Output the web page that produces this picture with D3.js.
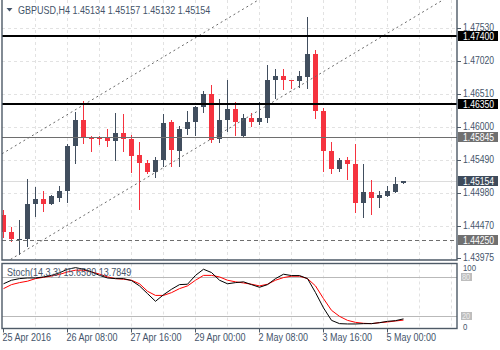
<!DOCTYPE html>
<html>
<head>
<meta charset="utf-8">
<script src="https://cdn.jsdelivr.net/npm/d3@7/dist/d3.min.js"></script>
<style>
  html, body { margin: 0; padding: 0; background: #ffffff; overflow: hidden; }
  svg { display: block; }
  text { font-family: "Liberation Sans", Arial, sans-serif; }
</style>
</head>
<body>
<svg id="chart" width="500" height="350"></svg>
<script>
// ---- GBPUSD H4 bars (25 Apr 2016 00:00 onwards) ----
const symbolTitle = "GBPUSD,H4";
const timeLabels = ["25 Apr 2016", "26 Apr 08:00", "27 Apr 16:00", "29 Apr 00:00", "2 May 08:00", "3 May 16:00", "5 May 00:00"];
const timeLabelBars = [0, 8, 16, 24, 32, 40, 48];

const opens = [1.44625,1.44377,1.44258,1.44264,1.44799,1.44872,1.44799,1.44892,1.45000,1.45696,
  1.46093,1.45841,1.45825,1.45815,1.45773,1.45907,1.45810,1.45552,1.45439,1.45294,
  1.45485,1.46062,1.45629,1.45954,1.46062,1.46298,1.46510,1.45804,1.46093,1.46263,
  1.45861,1.46139,1.46062,1.46124,1.46711,1.46773,1.46726,1.46700,1.46762,1.47128,
  1.46232,1.45629,1.45340,1.45475,1.45428,1.44815,1.44995,1.44892,1.44923,1.44995,1.45134];
const highs = [1.44702,1.44444,1.44558,1.45192,1.45062,1.45011,1.44934,1.45088,1.45722,1.46221,
  1.46391,1.45861,1.45861,1.45954,1.46216,1.46186,1.45876,1.45768,1.45490,1.45526,
  1.46186,1.46093,1.46015,1.46236,1.46324,1.46541,1.46649,1.46428,1.46711,1.46371,
  1.46186,1.46216,1.46371,1.46958,1.46896,1.46896,1.46726,1.46865,1.47700,1.47175,
  1.46289,1.45753,1.45506,1.45526,1.45722,1.45428,1.45181,1.45011,1.45088,1.45212,1.45157];
const lows = [1.44289,1.44234,1.44033,1.44146,1.44614,1.44691,1.44795,1.44846,1.44830,1.45433,
  1.45748,1.45629,1.45722,1.45706,1.45475,1.45629,1.45294,1.44728,1.45284,1.45216,
  1.45382,1.45397,1.45397,1.45887,1.45876,1.46221,1.45757,1.45757,1.45938,1.45876,
  1.45861,1.46015,1.46031,1.46077,1.46444,1.46576,1.46598,1.46618,1.46598,1.46128,
  1.45305,1.45278,1.45309,1.45186,1.44686,1.44598,1.44645,1.44753,1.44923,1.44985,1.45132];
const closes = [1.44366,1.44254,1.44269,1.44805,1.44872,1.44799,1.44923,1.45011,1.45706,1.46093,
  1.45819,1.45804,1.45804,1.45773,1.45907,1.45804,1.45541,1.45433,1.45294,1.45485,
  1.46057,1.45640,1.45969,1.46077,1.46294,1.46495,1.45799,1.46108,1.46263,1.46062,
  1.46139,1.46062,1.46139,1.46726,1.46773,1.46711,1.46700,1.46773,1.47128,1.46236,
  1.45618,1.45340,1.45475,1.45417,1.44815,1.44995,1.44892,1.44934,1.45011,1.45119,1.45154];

// Stochastic(14,3,3): main (%K) and signal (%D)
const stochK = [70,75.5,78,79,79,80.6,83,87,92.5,95,
  92.5,88.4,83,79,78,78,75,66.7,54.8,42.9,
  53,61.5,68.7,69.3,83,92.5,87.4,75.5,70,71.8,
  73,68.7,64.6,68.7,78,84.8,82.7,82.7,78,56.4,
  32.7,13.4,8.3,7.8,7.8,8.3,8.3,9.8,11.9,12.9,15.6580];
const stochD = [62.5,68.7,71.8,74,78,80,82,84.5,88.4,91,
  91,88.4,85,80.6,78,77,75.5,70,58.4,52,
  52,56.3,62.5,66.7,75.5,83,83,80.6,75.5,73,
  71.3,69.3,66.7,69.3,75.5,79.6,81.7,81.7,78,66.7,
  47,28.9,19.6,13.4,10.3,8.8,8.3,9.8,10.9,12.4,13.7849];
const stochLevels = [80, 20];
const stochScaleLabels = [100, 0];

// Price axis ticks and drawn levels
const priceTicks = [1.47530, 1.47020, 1.46510, 1.46000, 1.45490, 1.44980, 1.44470, 1.43975];
const keyLevels = [1.47400, 1.46350];
const midLevel = 1.45845;
const lowLevel = 1.44250;
// Trend channel: [bar index, price] anchor pairs
const channelLower = [[0, 1.43881], [50, 1.47590]];
const channelUpper = [[0, 1.45592], [50, 1.49301]];

// ---- layout ----
const svg = d3.select("#chart");
const main = { left: 2, right: 457, top: 0, bottom: 260 };
const sub = { left: 2, right: 457, top: 263.5, bottom: 328.5 };

const bullColor = "#414e5e";
const bearColor = "#f5333f";
const textColor = "#44546a";
const frameColor = "#4e5a67";
const narrow = 0.82; // horizontal squeeze giving a narrow terminal-style face

// text helper: anchored at (x, baseline y), horizontally condensed
function addText(parent, xPos, yPos, size, fill, str) {
  return parent.append("text")
    .attr("transform", `translate(${xPos},${yPos}) scale(${narrow},1)`)
    .attr("font-size", size).attr("fill", fill).text(str);
}

const x = d3.scaleLinear().domain([0, 50]).range([3.5, 403.5]);
const y = d3.scaleLinear().domain([1.43937, 1.47955]).range([260, 0]);
const ys = d3.scaleLinear().domain([0, 100]).range([329, 264.4]);

const defs = svg.append("defs");
defs.append("clipPath").attr("id", "clipMain").append("rect")
  .attr("x", main.left).attr("y", main.top).attr("width", main.right - main.left).attr("height", main.bottom - main.top);
defs.append("clipPath").attr("id", "clipSub").append("rect")
  .attr("x", sub.left).attr("y", sub.top).attr("width", sub.right - sub.left).attr("height", sub.bottom - sub.top);

const gridColor = "#e2e2e2";
const nBarsVisible = Math.floor(x.invert(main.right));

// vertical grid every 4 bars, through both panes
const gridBars = d3.range(4, nBarsVisible + 1, 4);
[[main, "clipMain"], [sub, "clipSub"]].forEach(([pane, clip]) => {
  svg.append("g").attr("clip-path", `url(#${clip})`)
    .selectAll("line").data(gridBars).join("line")
    .attr("x1", d => x(d)).attr("x2", d => x(d))
    .attr("y1", pane.top).attr("y2", pane.bottom)
    .attr("stroke", gridColor).attr("stroke-dasharray", "3,3");
});

// horizontal grid at price ticks
const gMain = svg.append("g").attr("clip-path", "url(#clipMain)");
gMain.selectAll("line.hgrid").data(priceTicks.slice(0, -1)).join("line")
  .attr("class", "hgrid")
  .attr("x1", main.left).attr("x2", main.right)
  .attr("y1", d => Math.round(y(d)) + 0.5).attr("y2", d => Math.round(y(d)) + 0.5)
  .attr("stroke", gridColor).attr("stroke-dasharray", "3,3");

// current price line
const lastClose = closes[closes.length - 1];
gMain.append("line")
  .attr("x1", main.left).attr("x2", main.right)
  .attr("y1", Math.round(y(lastClose)) + 0.5).attr("y2", Math.round(y(lastClose)) + 0.5)
  .attr("stroke", "#dcdcdc");

// candles
const bars = d3.range(opens.length).map(i => ({ i, o: opens[i], h: highs[i], l: lows[i], c: closes[i] }));
const gC = gMain.append("g");
gC.selectAll("line.wick").data(bars).join("line")
  .attr("class", "wick")
  .attr("x1", d => x(d.i)).attr("x2", d => x(d.i))
  .attr("y1", d => Math.round(y(d.h))).attr("y2", d => Math.round(y(d.l)) + 1)
  .attr("stroke", d => d.c >= d.o ? bullColor : bearColor).attr("stroke-width", 1);
gC.selectAll("rect.body").data(bars).join("rect")
  .attr("class", "body")
  .attr("x", d => x(d.i) - 2.5).attr("width", 5)
  .attr("y", d => Math.round(y(Math.max(d.o, d.c))))
  .attr("height", d => Math.max(1, Math.round(y(Math.min(d.o, d.c))) - Math.round(y(Math.max(d.o, d.c)))))
  .attr("fill", d => d.c >= d.o ? bullColor : bearColor);

// channel lines
[channelLower, channelUpper].forEach(pts => {
  const slope = (pts[1][1] - pts[0][1]) / (pts[1][0] - pts[0][0]);
  const b0 = x.invert(main.left), b1 = x.invert(main.right);
  gMain.append("line")
    .attr("x1", x(b0)).attr("y1", y(pts[0][1] + slope * (b0 - pts[0][0])))
    .attr("x2", x(b1)).attr("y2", y(pts[0][1] + slope * (b1 - pts[0][0])))
    .attr("stroke", "#6a6a6a").attr("stroke-width", 1).attr("stroke-dasharray", "2,3");
});

// horizontal levels
gMain.selectAll("line.key").data(keyLevels).join("line")
  .attr("class", "key")
  .attr("x1", main.left).attr("x2", main.right)
  .attr("y1", d => Math.round(y(d))).attr("y2", d => Math.round(y(d)))
  .attr("stroke", "#000").attr("stroke-width", 2);
gMain.append("line")
  .attr("x1", main.left).attr("x2", main.right)
  .attr("y1", Math.round(y(midLevel)) + 0.5).attr("y2", Math.round(y(midLevel)) + 0.5)
  .attr("stroke", "#6e6e6e").attr("stroke-width", 1.2);
gMain.append("line")
  .attr("x1", main.left).attr("x2", main.right)
  .attr("y1", Math.round(y(lowLevel)) + 0.5).attr("y2", Math.round(y(lowLevel)) + 0.5)
  .attr("stroke", "#6e6e6e").attr("stroke-width", 1).attr("stroke-dasharray", "4,3");

// ---- stochastic pane ----
const gSub = svg.append("g").attr("clip-path", "url(#clipSub)");
gSub.selectAll("line.lvl").data(stochLevels).join("line")
  .attr("class", "lvl")
  .attr("x1", sub.left).attr("x2", sub.right)
  .attr("y1", d => Math.round(ys(d)) + 0.5).attr("y2", d => Math.round(ys(d)) + 0.5)
  .attr("stroke", "#b9b9b9");
const stochLine = d3.line().x((d, i) => x(i)).y(d => ys(d));
gSub.append("path").datum(stochD).attr("d", stochLine)
  .attr("fill", "none").attr("stroke", "#ff0000").attr("stroke-width", 1);
gSub.append("path").datum(stochK).attr("d", stochLine)
  .attr("fill", "none").attr("stroke", "#000000").attr("stroke-width", 1);

// pane frames
svg.append("path")
  .attr("d", `M${main.left},${main.top - 2}V${main.bottom}H${main.right}V${main.top - 2}`)
  .attr("fill", "none").attr("stroke", frameColor).attr("stroke-width", 1.4);
svg.append("rect")
  .attr("x", sub.left).attr("y", sub.top).attr("width", sub.right - sub.left).attr("height", sub.bottom - sub.top)
  .attr("fill", "none").attr("stroke", frameColor).attr("stroke-width", 1.4);

// ---- price axis ----
const axisX = main.right;
const gAxis = svg.append("g");
gAxis.selectAll("line.tick").data(priceTicks).join("line")
  .attr("class", "tick")
  .attr("x1", axisX).attr("x2", axisX + 4)
  .attr("y1", d => Math.round(y(d)) + 0.5).attr("y2", d => Math.round(y(d)) + 0.5)
  .attr("stroke", frameColor);
priceTicks.forEach(v => addText(gAxis, axisX + 6, y(v) + 3.6, 10.5, textColor, v.toFixed(5)));

function priceBox(value, fill, color) {
  const cy = Math.round(y(value));
  gAxis.append("rect").attr("x", axisX + 1).attr("y", cy - 5).attr("width", 40).attr("height", 10).attr("fill", fill);
  addText(gAxis, axisX + 6, cy + 3.8, 10.5, color, value.toFixed(5));
}
keyLevels.forEach(v => priceBox(v, "#000000", "#ffffff"));
priceBox(midLevel, "#707070", "#ffffff");
priceBox(lowLevel, "#707070", "#ffffff");
priceBox(lastClose, "#3e4b5b", "#ffffff");

// stochastic scale labels
stochScaleLabels.forEach((v, k) => addText(svg, axisX + 6, k === 0 ? 270.5 : 329.5, 9.5, textColor, v));
stochLevels.forEach(v => {
  const cy = Math.round(ys(v));
  svg.append("rect").attr("x", axisX + 4).attr("y", cy - 4).attr("width", 11).attr("height", 8).attr("fill", "#bdbdbd");
  addText(svg, axisX + 5, cy + 3, 9, "#eeeeee", v);
});

// ---- time axis ----
svg.selectAll("line.ttick").data(timeLabelBars).join("line")
  .attr("class", "ttick")
  .attr("x1", d => x(d)).attr("x2", d => x(d))
  .attr("y1", sub.bottom).attr("y2", sub.bottom + 4)
  .attr("stroke", frameColor);
timeLabels.forEach((t, i) => addText(svg, x(timeLabelBars[i]) - 1, 341, 11, textColor, t));

// ---- titles ----
svg.append("path").attr("d", "M6.5,8L12.5,8L9.5,11.5Z").attr("fill", textColor);
addText(svg, 18, 14, 11, textColor,
  `${symbolTitle} ${[opens, highs, lows, closes].map(a => a[a.length - 1].toFixed(5)).join(" ")}`);
addText(svg, 7, 276, 11, textColor,
  `Stoch(14,3,3) ${stochK[stochK.length - 1].toFixed(4)} ${stochD[stochD.length - 1].toFixed(4)}`);
</script>
</body>
</html>
